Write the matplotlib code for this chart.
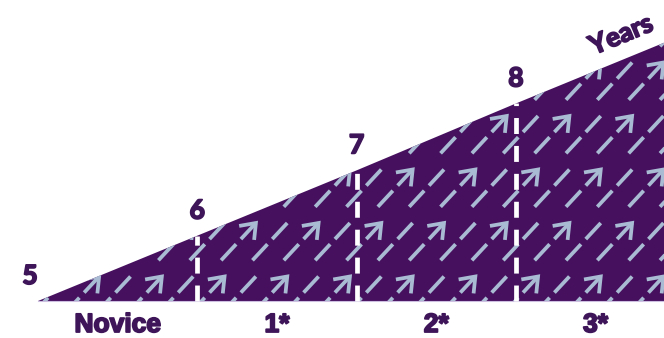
import numpy as np
import matplotlib
matplotlib.use("Agg")
import matplotlib.pyplot as plt
import matplotlib.patheffects as pe
from matplotlib.patches import Polygon
from matplotlib.collections import LineCollection

# data
years = [5, 6, 7, 8]
edge_x = [5, 6, 7, 8, 9]
edge_top = [0.0, 0.41, 0.82, 1.24, 1.65]
levels = ["Novice", "1*", "2*", "3*"]
level_x = [5.5, 6.5, 7.5, 8.5]

FILL = "#46105f"
ARROW = "#a9bbd2"
TEXT = "#3e1558"

PX = 159.3          # pixels per year (same scale on both axes)
W, H = 664, 338
X0_PX, BASE_PX = 38, 301

fig = plt.figure(figsize=(W / 100, H / 100), dpi=100)
ax = fig.add_axes([0, 0, 1, 1])
ax.set_xlim(5 - X0_PX / PX, 5 + (W - X0_PX) / PX)
ax.set_ylim(-(H - BASE_PX) / PX, BASE_PX / PX)
ax.axis("off")

# wedge
verts = list(zip(edge_x, edge_top)) + [(edge_x[-1], 0.0), (edge_x[0], 0.0)]
wedge = Polygon(verts, closed=True, facecolor=FILL, edgecolor="none", zorder=1)
ax.add_patch(wedge)

# arrow texture (staggered dashed arrows)
theta = np.deg2rad(47)
u = np.array([np.cos(theta), np.sin(theta)])
w1 = np.array([np.cos(np.deg2rad(190)), np.sin(np.deg2rad(190))])
w2 = np.array([np.cos(np.deg2rad(264)), np.sin(np.deg2rad(264))])
tip0 = np.array([5 + (444 - X0_PX) / PX, (BASE_PX - 223) / PX])
col_step = 31.35 / PX
row_step = 53.5 / PX

segs = []
for j in range(-5, 3):
    for k in range(-17, 10):
        tip = tip0 + np.array([k * col_step, -j * row_step])
        segs.append([tip, tip - 22 / PX * u])
        segs.append([tip - 29 / PX * u, tip - 51 / PX * u])
        if (j + k) % 2 == 0:
            segs.append([tip + 17 / PX * w1, tip, tip + 17 / PX * w2])

lc = LineCollection(segs, colors=ARROW, linewidths=2.7, zorder=2)
lc.set_capstyle("butt")
lc.set_joinstyle("miter")
ax.add_collection(lc)
lc.set_clip_path(wedge)

# faint baseline
ax.plot([edge_x[0], edge_x[-1]], [0, 0], color="#cdbfe0", lw=0.8, zorder=2)

# white dashed year dividers
plt.rcParams["lines.scale_dashes"] = False
for yr, top in zip(years[1:], edge_top[1:4]):
    ax.plot([yr, yr], [0, top], color="white", lw=3.4, dashes=(11.5, 8.6),
            solid_capstyle="butt", dash_capstyle="butt", zorder=3)

# thicker strokes to get the heavy look of the original lettering
heavy = [pe.withStroke(linewidth=1.3, foreground=TEXT)]

# year labels above the edge
for yr, top in zip(years, edge_top):
    dx = -8 / PX if yr == years[0] else 0
    ax.text(yr + dx, top + 25 / PX, str(yr), ha="center", va="center",
            fontsize=19, fontweight="bold", family="Lato", color=TEXT,
            path_effects=heavy)

slope_deg = np.degrees(np.arctan((edge_top[-1] - edge_top[0]) / (edge_x[-1] - edge_x[0])))
ax.text(5 + (621 - X0_PX) / PX, (BASE_PX - 35) / PX, "Years", rotation=slope_deg,
        rotation_mode="anchor", ha="center", va="center",
        fontsize=19, fontweight="bold", family="Lato", color=TEXT,
        path_effects=heavy)

# level labels under the wedge
for x, lab in zip(level_x, levels):
    ax.text(x, -(332 - BASE_PX) / PX, lab, ha="center", va="baseline",
            fontsize=19, fontweight="bold", family="Liberation Sans",
            color=TEXT, path_effects=heavy)

fig.savefig("out.png", dpi=100)
